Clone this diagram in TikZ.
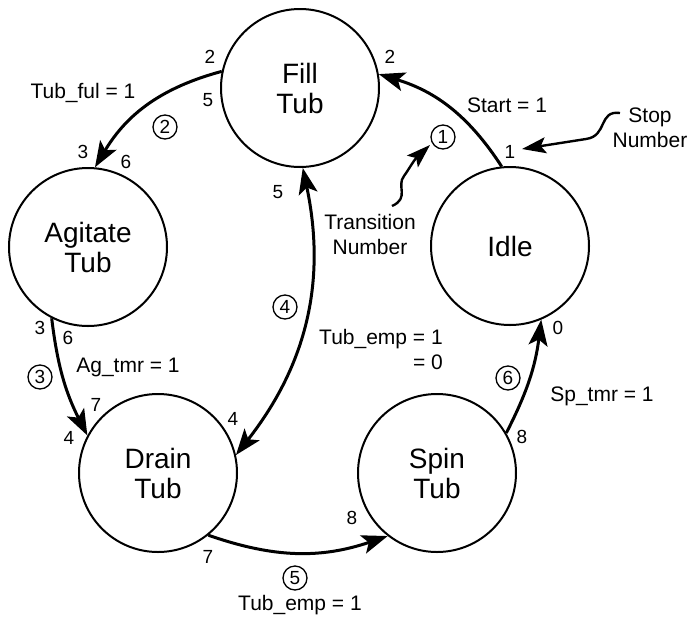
\documentclass[tikz,border=0pt]{standalone}
\usepackage{fontspec}
\setmainfont{Liberation Sans}
\usetikzlibrary{arrows.meta}

\begin{document}
\begin{tikzpicture}[x=1pt, y=1pt,
      >={Stealth[length=26pt, width=19pt, inset=6pt]},
      every node/.style={font=\fontsize{21}{25}\selectfont},
      statenode/.style={draw, circle, line width=2pt, minimum size=158pt,
          inner sep=0pt, align=center, font=\fontsize{28}{30}\selectfont},
      stopnum/.style={inner sep=0pt, font=\fontsize{19}{21}\selectfont},
      transnum/.style={draw, circle, line width=1.3pt, minimum size=24pt,
          inner sep=0pt, font=\fontsize{19}{21}\selectfont},
      transarrow/.style={line width=3pt},
      pointer/.style={line width=2.4pt,
          -{Stealth[length=24pt, width=16pt, inset=5pt]}}]
    \useasboundingbox (0,0) rectangle (691,-619);
    % states
    \node[statenode] (FILL) at (300,-88) {Fill\\Tub};
    \node[statenode] (IDLE) at (510,-246) {Idle};
    \node[statenode] (SPIN) at (437,-473) {Spin\\Tub};
    \node[statenode] (DRAIN) at (158,-473) {Drain\\Tub};
    \node[statenode] (AGIT) at (88,-247) {Agitate\\Tub};
    % transitions
    \draw[transarrow, ->] (IDLE.96) to[bend right=20] (FILL.10);
    \draw[transarrow, ->] (FILL.168) to[bend right=22] (AGIT.85);
    \draw[transarrow, ->] (AGIT.243) to[bend right=10] (DRAIN.152);
    \draw[transarrow, <->] (FILL.272) to[bend left=25] (DRAIN.13);
    \draw[transarrow, ->] (DRAIN.309) to[bend right=19] (SPIN.232);
    \draw[transarrow, ->] (SPIN.30) to[bend right=10] (IDLE.293);
    % 1: Idle -> Fill
    \node[stopnum] (S1a) at (510,-152) {1};
    \node[stopnum] (S1b) at (390,-57) {2};
    \node (C1) at (507,-105) {Start = 1};
    \node[transnum] (T1) at (443,-137) {1};
    % 2: Fill -> Agitate
    \node[stopnum] (S2a) at (210,-57) {2};
    \node[stopnum] (S2b) at (208,-100) {5};
    \node[stopnum] (S2c) at (83,-152) {3};
    \node[stopnum] (S2d) at (126,-162) {6};
    \node (C2) at (83,-93) {Tub\_ful = 1};
    \node[transnum] (T2) at (165,-127) {2};
    % 3: Agitate -> Drain
    \node[stopnum] (S3a) at (40,-328) {3};
    \node[stopnum] (S3b) at (68,-338) {6};
    \node[stopnum] (S3c) at (96,-405) {7};
    \node[stopnum] (S3d) at (69,-438) {4};
    \node (C3) at (128,-367) {Ag\_tmr = 1};
    \node[transnum] (T3) at (40,-377) {3};
    % 4: Fill <-> Drain
    \node[stopnum] (S4a) at (278,-192) {5};
    \node[stopnum] (S4b) at (233,-419) {4};
    \node[align=right] (C4) at (381,-349) {Tub\_emp = 1\\= 0};
    \node[transnum] (T4) at (285,-307) {4};
    % 5: Drain -> Spin
    \node[stopnum] (S5a) at (208,-557) {7};
    \node[stopnum] (S5b) at (352,-518) {8};
    \node (C5) at (300,-605) {Tub\_emp = 1};
    \node[transnum] (T5) at (295,-578) {5};
    % 6: Spin -> Idle
    \node[stopnum] (S6a) at (522,-437) {8};
    \node[stopnum] (S6b) at (558,-328) {0};
    \node (C6) at (602,-396) {Sp\_tmr = 1};
    \node[transnum] (T6) at (508,-378) {6};
    % legend pointers
    \node[align=center] (STOP) at (650,-128) {Stop\\Number};
    \node[align=center] (TRANS) at (370,-234) {Transition\\Number};
    \coordinate (STOPtail) at (620,-113);
    \coordinate (STOPtip) at (522,-149);
    \coordinate (TRANStail) at (392,-206);
    \coordinate (TRANStip) at (430,-145);
    \draw[pointer] (STOPtail) .. controls (598,-110) and (608,-136) .. (586,-139)
          -- (STOPtip);
    \draw[pointer] (TRANStail) .. controls (410,-198) and (396,-186) .. (404,-176)
          .. controls (409,-169) and (414,-160) .. (TRANStip);
\end{tikzpicture}
\end{document}
